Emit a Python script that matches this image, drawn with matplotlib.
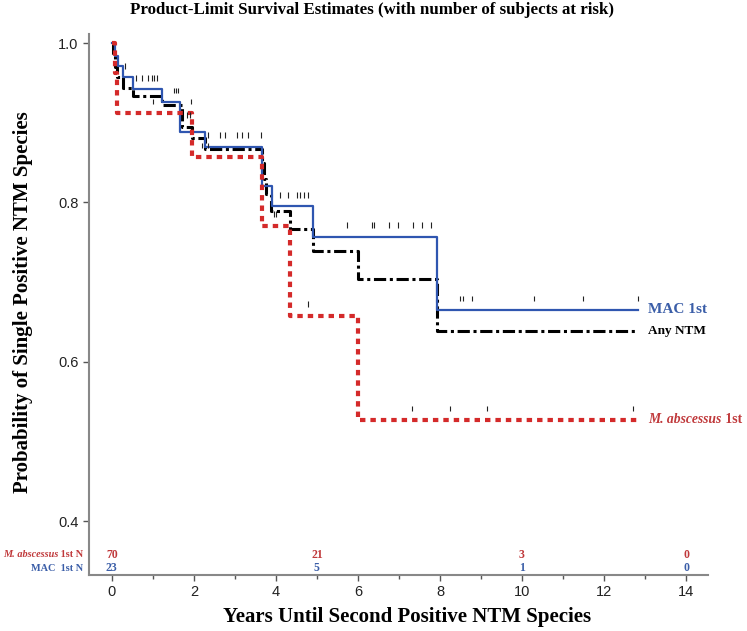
import matplotlib.pyplot as plt

# Kaplan-Meier step data (years, survival probability)
mac_t = [0, 0.07, 0.15, 0.27, 0.51, 1.22, 1.66, 2.27, 3.66, 3.9, 4.9, 7.93, 12.83]
mac_s = [1.0, 0.984, 0.971, 0.957, 0.942, 0.926, 0.888, 0.870, 0.820, 0.795, 0.757, 0.665, 0.665]

any_t = [0, 0.03, 0.07, 0.12, 0.27, 0.51, 1.22, 1.7, 1.95, 2.27, 3.66, 3.7, 3.75, 3.88,
         4.34, 4.9, 6.0, 7.93, 12.83]
any_s = [1.0, 0.985, 0.97, 0.957, 0.944, 0.933, 0.922, 0.895, 0.881, 0.867, 0.85, 0.83,
         0.81, 0.789, 0.766, 0.739, 0.704, 0.639, 0.639]

abs_t = [0, 0.07, 0.12, 1.95, 3.66, 4.34, 6.0, 12.83]
abs_s = [1.0, 0.962, 0.912, 0.857, 0.771, 0.658, 0.527, 0.527]

# censoring times
mac_cens = [0.32, 0.6, 0.73, 0.88, 0.97, 1.02, 1.1, 1.52, 1.57, 1.62, 2.34, 2.63, 2.76, 3.05,
            3.17, 3.32, 3.64, 4.1, 4.29, 4.51, 4.58, 4.68, 4.78, 5.73, 6.34, 6.39, 6.76, 6.98,
            7.34, 7.56, 7.78, 8.5, 8.56, 8.78, 10.3, 11.5, 12.83]
any_cens = [1.83, 1.9]
abs_cens = [1.0, 1.93, 2.2, 2.34, 3.95, 4.0, 4.78, 7.32, 8.24, 9.15, 12.7]

# numbers at risk
risk_times = [0, 5, 10, 14]
risk_abs = [70, 21, 3, 0]
risk_mac = [23, 5, 1, 0]

RED = "#d42a2a"
BLUE = "#2f56b0"
RED_TXT = "#c0393b"
BLUE_TXT = "#3b5ea8"
SERIF = "Liberation Serif"


def surv_at(t, times, surv):
    s = surv[0]
    for tt, ss in zip(times, surv):
        if tt <= t:
            s = ss
    return s


plt.rcParams["font.family"] = "Liberation Sans"
fig = plt.figure(figsize=(7.47, 6.31), dpi=100)
ax = fig.add_axes([0.119, 0.089, 0.829, 0.857])

ax.step(mac_t, mac_s, where="post", color=BLUE, lw=1.6, zorder=3)
ax.step(any_t, any_s, where="post", color="black", lw=2.2,
        linestyle=(0, (4, 1.2, 1, 1.2)), zorder=2)
ax.step(abs_t, abs_s, where="post", color=RED, lw=3.0,
        linestyle=(0, (1.3, 1.2)), zorder=4)

for cens, times, surv in [(mac_cens, mac_t, mac_s), (any_cens, any_t, any_s),
                          (abs_cens, abs_t, abs_s)]:
    lows = [surv_at(c, times, surv) + 0.011 for c in cens]
    highs = [surv_at(c, times, surv) + 0.018 for c in cens]
    ax.vlines(cens, lows, highs, color="#222222", lw=0.8, zorder=5)

ax.set_xlim(-0.56, 14.54)
ax.set_ylim(0.3325, 1.0113)
ax.set_xticks(range(0, 15, 2))
ax.set_xticks(range(1, 15, 2), minor=True)
ax.set_yticks([0.4, 0.6, 0.8, 1.0])
ax.set_yticklabels(["0.4", "0.6", "0.8", "1.0"])
ax.tick_params(axis="both", which="major", length=4, width=1, color="#555555",
               labelsize=10.5, labelcolor="#222222")
ax.tick_params(axis="x", which="minor", length=3, width=1, color="#555555")
for side in ["top", "right"]:
    ax.spines[side].set_visible(False)
for side in ["left", "bottom"]:
    ax.spines[side].set_color("#888888")
    ax.spines[side].set_linewidth(1.5)

# numbers at risk inside the plot
for t, a, m in zip(risk_times, risk_abs, risk_mac):
    ax.text(t, 0.358, str(a), color=RED_TXT, fontsize=8.5, fontfamily=SERIF,
            fontweight="bold", ha="center", va="center")
    ax.text(t, 0.341, str(m), color=BLUE_TXT, fontsize=8.5, fontfamily=SERIF,
            fontweight="bold", ha="center", va="center")

# row labels left of the axis
lab1 = ax.text(-0.7, 0.358, " 1st N", color=RED_TXT, fontsize=7.4, fontfamily=SERIF,
               fontweight="bold", ha="right", va="center", clip_on=False)
ax.annotate("M. abscessus", xy=(0, 0.5), xycoords=lab1, color=RED_TXT, fontsize=7.4,
            fontfamily=SERIF, fontweight="bold", fontstyle="italic", ha="right", va="center")
ax.text(-0.7, 0.341, "MAC  1st N", color=BLUE_TXT, fontsize=7.4, fontfamily=SERIF,
        fontweight="bold", ha="right", va="center", clip_on=False)

# curve labels on the right
ax.text(13.08, 0.665, "MAC 1st", color=BLUE_TXT, fontsize=11, fontfamily=SERIF,
        fontweight="bold", ha="left", va="center", clip_on=False)
ax.text(13.08, 0.639, "Any NTM", color="black", fontsize=9.5, fontfamily=SERIF,
        fontweight="bold", ha="left", va="center", clip_on=False)
lab2 = ax.text(13.08, 0.527, "M. abscessus", color=RED_TXT, fontsize=9.8, fontfamily=SERIF,
               fontweight="bold", fontstyle="italic", ha="left", va="center", clip_on=False)
ax.annotate(" 1st", xy=(1, 0.5), xycoords=lab2, color=RED_TXT, fontsize=9.8,
            fontfamily=SERIF, fontweight="bold", ha="left", va="center")

fig.text(0.498, 0.984, "Product-Limit Survival Estimates (with number of subjects at risk)",
         fontsize=12.2, fontfamily=SERIF, fontweight="bold", ha="center", va="center")
fig.text(0.545, 0.022, "Years Until Second Positive NTM Species", fontsize=15,
         fontfamily=SERIF, fontweight="bold", ha="center", va="center")
fig.text(0.031, 0.521, "Probability of Single Positive NTM Species", fontsize=15,
         fontfamily=SERIF, fontweight="bold", ha="center", va="center", rotation=90)

fig.savefig("out.png", dpi=100)
